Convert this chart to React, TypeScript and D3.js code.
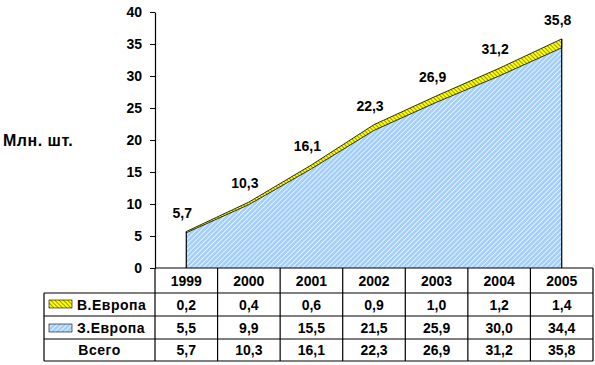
import { useRef, useEffect } from "react";
import * as d3 from "d3";

const YEARS = ["1999", "2000", "2001", "2002", "2003", "2004", "2005"];
const EAST = [0.2, 0.4, 0.6, 0.9, 1.0, 1.2, 1.4];
const WEST = [5.5, 9.9, 15.5, 21.5, 25.9, 30.0, 34.4];
const TOTAL = [5.7, 10.3, 16.1, 22.3, 26.9, 31.2, 35.8];
const Y_TICKS = [0, 5, 10, 15, 20, 25, 30, 35, 40];
const ROW_LABELS = ["В.Европа", "З.Европа", "Всего"];

const W = 595;
const H = 365;
const FONT = "'Liberation Sans', Arial, sans-serif";
const fmt = (v: number) => v.toFixed(1).replace(".", ",");

export default function App() {
  const axisRef = useRef<SVGGElement>(null);

  const left = 155;
  const right = 593;
  const top = 12;
  const base = 268;
  const rows = [268, 293, 316, 339, 361];
  const labelLeft = 44;

  const x = d3.scaleBand<string>().domain(YEARS).range([left, right]).padding(0);
  const cx = (i: number) => x(YEARS[i])! + x.bandwidth() / 2;
  const y = d3.scaleLinear().domain([0, 40]).range([base, top]);

  const table = YEARS.map((yr, i) => ({ yr, east: EAST[i], west: WEST[i] }));
  const series = d3.stack<any>().keys(["west", "east"])(table);
  const area = d3
    .area<any>()
    .x((_, i) => cx(i))
    .y0((d) => y(d[0]))
    .y1((d) => y(d[1]));

  useEffect(() => {
    if (!axisRef.current) return;
    const g = d3.select(axisRef.current);
    g.selectAll("*").remove();
    g.call(
      d3.axisLeft(y).tickValues(Y_TICKS).tickSize(5).tickSizeOuter(0).tickPadding(8).tickFormat((d) => String(d))
    );
    g.select(".domain").attr("stroke", "#000").attr("stroke-width", 1.2);
    g.selectAll(".tick line").attr("stroke", "#000");
    g.selectAll(".tick text")
      .attr("font-family", FONT)
      .attr("font-weight", "bold")
      .attr("font-size", 14)
      .attr("fill", "#000");
  }, []);

  const rowData = [EAST, WEST, TOTAL];

  return (
    <svg width={W} height={H} style={{ position: "absolute", left: 0, top: 0, background: "#fff" }}>
      <defs>
        <pattern id="blueHatch" width={3.5} height={3.5} patternUnits="userSpaceOnUse" patternTransform="rotate(45)">
          <rect width={3.5} height={3.5} fill="#a3cffc" />
          <line x1={0} y1={0} x2={0} y2={3.5} stroke="#ffffff" strokeWidth={1.4} />
        </pattern>
        <pattern id="yellowHatch" width={3} height={3} patternUnits="userSpaceOnUse" patternTransform="rotate(-45)">
          <rect width={3} height={3} fill="#ffff00" />
          <line x1={0} y1={0} x2={0} y2={3} stroke="#333300" strokeWidth={1} />
        </pattern>
      </defs>

      <text x={3} y={146} fontFamily={FONT} fontWeight="bold" fontSize={16} fill="#000" letterSpacing={0.5}>
        Млн. шт.
      </text>

      {/* stacked areas */}
      <path d={area(series[0])!} fill="url(#blueHatch)" stroke="none" />
      <path d={area(series[1])!} fill="url(#yellowHatch)" stroke="#000" strokeWidth={0.8} />
      <line x1={cx(0)} x2={cx(0)} y1={base} y2={y(TOTAL[0])} stroke="#000" strokeWidth={1.2} />
      <line x1={cx(6)} x2={cx(6)} y1={base} y2={y(TOTAL[6])} stroke="#000" strokeWidth={1.2} />

      {/* value labels */}
      {TOTAL.map((v, i) => (
        <text
          key={i}
          x={cx(i) - 4}
          y={y(v) - 14}
          textAnchor="middle"
          fontFamily={FONT}
          fontWeight="bold"
          fontSize={14}
          fill="#000"
        >
          {fmt(v)}
        </text>
      ))}

      <g ref={axisRef} transform={`translate(${left},0)`} />

      {/* table grid */}
      <g stroke="#000" strokeWidth={1.2}>
        <line x1={left} x2={right} y1={rows[0]} y2={rows[0]} />
        {rows.slice(1).map((ry) => (
          <line key={ry} x1={labelLeft} x2={right} y1={ry} y2={ry} />
        ))}
        {d3.range(YEARS.length + 1).map((i) => {
          const xx = i < YEARS.length ? x(YEARS[i])! : right;
          return <line key={i} x1={xx} x2={xx} y1={rows[0]} y2={rows[4]} />;
        })}
        <line x1={labelLeft} x2={labelLeft} y1={rows[1]} y2={rows[4]} />
      </g>

      {/* header */}
      {YEARS.map((yr, i) => (
        <text
          key={yr}
          x={cx(i)}
          y={(rows[0] + rows[1]) / 2 + 5}
          textAnchor="middle"
          fontFamily={FONT}
          fontWeight="bold"
          fontSize={14}
        >
          {yr}
        </text>
      ))}

      {/* legend swatches */}
      <rect x={49} y={300} width={23} height={8} fill="url(#yellowHatch)" stroke="#000" strokeWidth={0.6} />
      <rect x={49} y={324} width={23} height={8} fill="url(#blueHatch)" stroke="#000" strokeWidth={0.6} />

      {ROW_LABELS.map((lab, r) => (
        <text
          key={lab}
          x={r < 2 ? 77 : (labelLeft + left) / 2}
          y={(rows[r + 1] + rows[r + 2]) / 2 + 5}
          textAnchor={r < 2 ? "start" : "middle"}
          fontFamily={FONT}
          fontWeight="bold"
          fontSize={14}
          letterSpacing={0.5}
        >
          {lab}
        </text>
      ))}

      {rowData.map((arr, r) =>
        arr.map((v, i) => (
          <text
            key={`${r}-${i}`}
            x={cx(i)}
            y={(rows[r + 1] + rows[r + 2]) / 2 + 5}
            textAnchor="middle"
            fontFamily={FONT}
            fontWeight="bold"
            fontSize={14}
          >
            {fmt(v)}
          </text>
        ))
      )}
    </svg>
  );
}
